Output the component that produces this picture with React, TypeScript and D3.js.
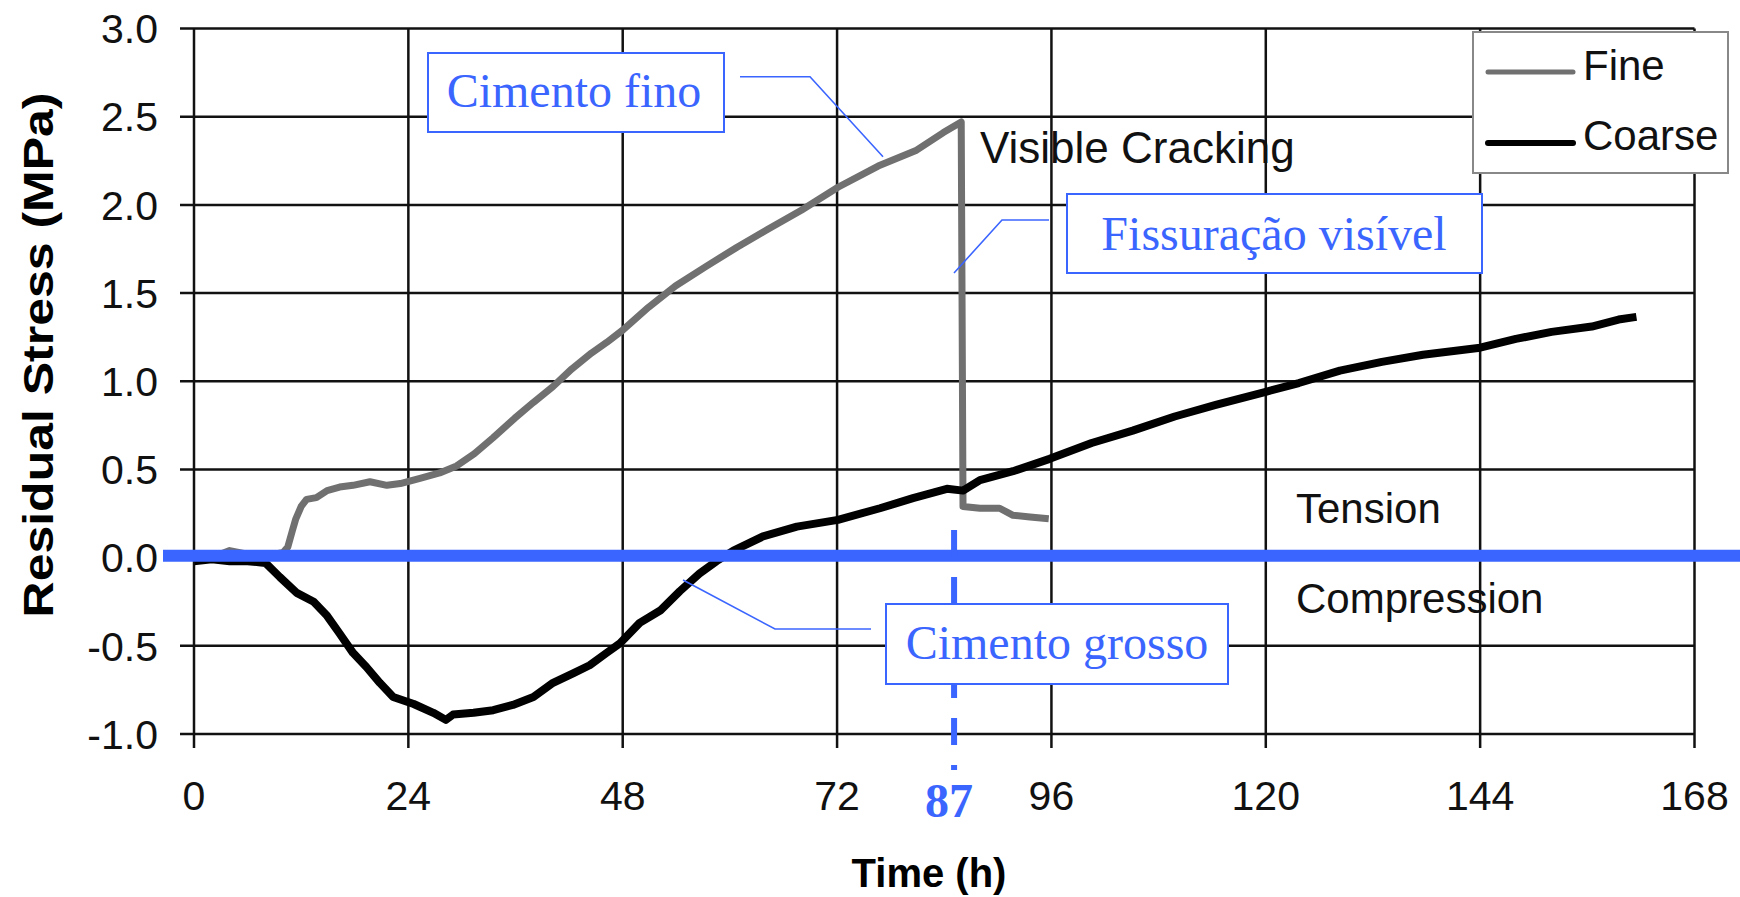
import React from "react";
import * as d3 from "d3";

// tick values
const xTicks = [0, 24, 48, 72, 96, 120, 144, 168];
const yTicks = [-1, -0.5, 0, 0.5, 1, 1.5, 2, 2.5, 3];

// Fine cement (gray)
const fineTime = [0, 2, 4, 6, 8, 10, 10.5, 11, 11.4, 12, 12.6, 13.7, 14.9, 16.3, 17.8, 19.7, 21.6, 23.1, 25.3, 27.5, 29.4, 31.4, 33.5, 35.9, 38, 40.2, 42.3, 44.5, 46.2, 48, 50.9, 53.9, 57.3, 60.8, 64.2, 68, 72.1, 76.6, 80.9, 83.9, 85.9, 86.1, 88, 90.2, 91.7, 93.6, 95.7];
const fineStress = [-0.02, 0, 0.04, 0.02, 0.01, 0.03, 0.06, 0.15, 0.22, 0.29, 0.33, 0.34, 0.38, 0.4, 0.41, 0.43, 0.41, 0.42, 0.45, 0.48, 0.52, 0.59, 0.68, 0.79, 0.88, 0.97, 1.07, 1.16, 1.22, 1.29, 1.42, 1.54, 1.65, 1.76, 1.86, 1.97, 2.1, 2.22, 2.31, 2.41, 2.47, 0.29, 0.28, 0.28, 0.24, 0.23, 0.22];

// Coarse cement (black)
const coarseTime = [0, 2, 4, 6, 8, 9.6, 11.5, 13.4, 14.9, 16.3, 17.8, 19.3, 20.8, 22.3, 24.6, 26.8, 28.2, 29, 31.3, 33.5, 35.7, 38, 40.2, 42.5, 44.3, 46.2, 47.7, 49.9, 52.2, 54.4, 56.6, 58.5, 60.4, 63.7, 67.5, 72.1, 76.8, 80.5, 84.3, 86.1, 88, 91.7, 95.8, 100.5, 105.1, 109.8, 114.4, 120, 123.7, 128.3, 133, 137.6, 144, 148, 152, 156.5, 159.5, 161.5];
const coarseStress = [-0.02, -0.01, -0.02, -0.02, -0.03, -0.11, -0.2, -0.25, -0.33, -0.43, -0.54, -0.62, -0.71, -0.79, -0.83, -0.88, -0.92, -0.89, -0.88, -0.865, -0.835, -0.79, -0.71, -0.655, -0.61, -0.54, -0.485, -0.37, -0.3, -0.19, -0.09, -0.02, 0.04, 0.12, 0.176, 0.214, 0.28, 0.337, 0.39, 0.38, 0.44, 0.49, 0.56, 0.65, 0.72, 0.8, 0.866, 0.94, 0.99, 1.06, 1.11, 1.15, 1.19, 1.24, 1.28, 1.31, 1.35, 1.365];

const crackMarkTime = 85.1; // where the dashed marker sits in the picture
const crackMarkLabel = "87";

const W = 1740;
const H = 897;
const SANS = "'Liberation Sans', Arial, sans-serif";
const SERIF = "'Liberation Serif', 'Times New Roman', serif";
const BLUE = "#3b65ff";

export default function App() {
  const x = d3.scaleLinear().domain([0, 168]).range([194, 1694.5]);
  const y = d3.scaleLinear().domain([-1, 3]).range([734, 28.5]);

  const finePath = d3
    .line<number>()
    .x((t) => x(t))
    .y((_, i) => y(fineStress[i]))(fineTime) as string;
  const coarsePath = d3
    .line<number>()
    .x((t) => x(t))
    .y((_, i) => y(coarseStress[i]))(coarseTime) as string;

  const [x0, x1] = x.range();
  const yBottom = y(-1);
  const yTop = y(3);
  const xc = x(crackMarkTime);

  return (
    <svg
      width={W}
      height={H}
      style={{ position: "absolute", left: 0, top: 0, display: "block", background: "#fff" }}
    >
      {/* grid */}
      <g stroke="#111" strokeWidth={2.5}>
        {yTicks.map((v) => (
          <line key={"h" + v} x1={x0 - 14} x2={x1} y1={y(v)} y2={y(v)} />
        ))}
        {xTicks.map((t) => (
          <line key={"v" + t} x1={x(t)} x2={x(t)} y1={yTop} y2={yBottom + 14} />
        ))}
      </g>

      {/* tick labels */}
      <g fontFamily={SANS} fontSize={41} fill="#111">
        {yTicks.map((v) => (
          <text key={"yl" + v} x={158} y={y(v)} dy="0.36em" textAnchor="end">
            {v.toFixed(1)}
          </text>
        ))}
        {xTicks.map((t) => (
          <text key={"xl" + t} x={x(t)} y={810} textAnchor="middle">
            {t}
          </text>
        ))}
      </g>

      {/* axis titles */}
      <text
        x={929}
        y={887}
        textAnchor="middle"
        fontFamily={SANS}
        fontWeight="bold"
        fontSize={40}
      >
        Time (h)
      </text>
      <text
        transform="translate(53, 355) rotate(-90) scale(1.19, 1)"
        textAnchor="middle"
        fontFamily={SANS}
        fontWeight="bold"
        fontSize={42}
      >
        Residual Stress (MPa)
      </text>

      {/* series */}
      <path d={finePath} fill="none" stroke="#707070" strokeWidth={7} strokeLinejoin="round" />
      <path d={coarsePath} fill="none" stroke="#000" strokeWidth={8} strokeLinejoin="round" />

      {/* zero line */}
      <line x1={163} x2={W} y1={y(0) - 2} y2={y(0) - 2} stroke={BLUE} strokeWidth={12} />

      {/* crack marker */}
      <line
        x1={xc}
        x2={xc}
        y1={530}
        y2={770}
        stroke={BLUE}
        strokeWidth={6}
        strokeDasharray="27 20"
      />
      <text
        x={xc - 5}
        y={817}
        textAnchor="middle"
        fontFamily={SERIF}
        fontWeight="bold"
        fontSize={48}
        fill={BLUE}
      >
        {crackMarkLabel}
      </text>

      {/* plain chart labels */}
      <g fontFamily={SANS} fontSize={42} fill="#111">
        <text x={980} y={163} fontSize={44}>Visible Cracking</text>
        <text x={1296} y={523}>Tension</text>
        <text x={1296} y={613}>Compression</text>
      </g>

      {/* callouts */}
      <g fill="none" stroke={BLUE} strokeWidth={1.6}>
        <polyline points="740,76.7 810,76.7 883,156.7" />
        <polyline points="1049,220 1002,220 954,273" />
        <polyline points="871,629 775,629 683,580" />
      </g>
      <g fill="#fff" stroke={BLUE} strokeWidth={2}>
        <rect x={428} y={53} width={296} height={79} />
        <rect x={1067} y={194} width={415} height={79} />
        <rect x={886} y={604} width={342} height={80} />
      </g>
      <g fontFamily={SERIF} fontSize={48} fill={BLUE} textAnchor="middle">
        <text x={574} y={107}>Cimento fino</text>
        <text x={1274} y={250}>Fissuração visível</text>
        <text x={1057} y={659}>Cimento grosso</text>
      </g>

      {/* legend */}
      <rect x={1473} y={32} width={255} height={141} fill="#fff" stroke="#888" strokeWidth={2} />
      <line x1={1488} x2={1573} y1={72} y2={72} stroke="#707070" strokeWidth={5} strokeLinecap="round" />
      <line x1={1488} x2={1573} y1={143} y2={143} stroke="#000" strokeWidth={6} strokeLinecap="round" />
      <g fontFamily={SANS} fontSize={42} fill="#111">
        <text x={1583} y={80}>Fine</text>
        <text x={1583} y={150}>Coarse</text>
      </g>
    </svg>
  );
}
